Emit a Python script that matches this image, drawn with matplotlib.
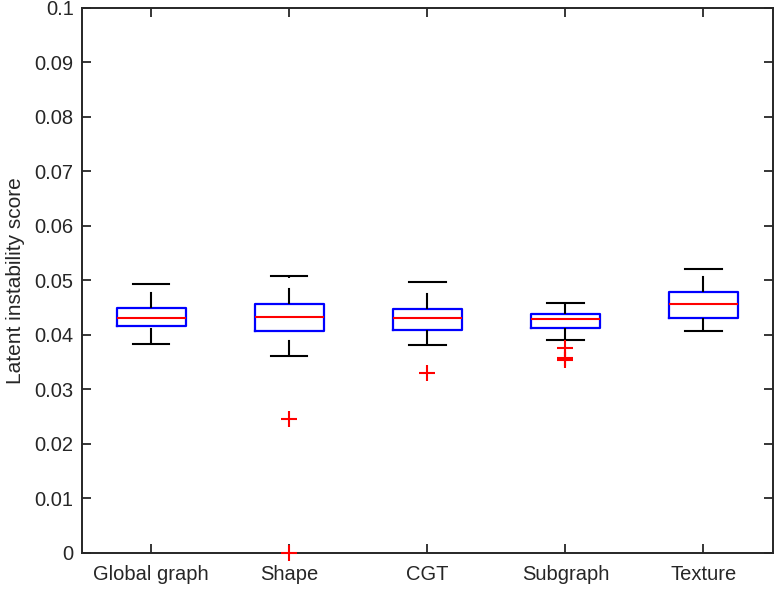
import matplotlib
matplotlib.use("Agg")
import matplotlib.pyplot as plt

# Box statistics
labels = ["Global graph", "Shape", "CGT", "Subgraph", "Texture"]
whislo = [0.0383, 0.0361, 0.0381, 0.0391, 0.0408]
q1 = [0.0416, 0.0407, 0.0409, 0.0413, 0.0432]
med = [0.0431, 0.0433, 0.0432, 0.0429, 0.0457]
q3 = [0.0450, 0.0456, 0.0447, 0.0439, 0.0479]
whishi = [0.0494, 0.0509, 0.0498, 0.0458, 0.0521]
fliers = [[], [0.0245, 0.0], [0.0331], [0.0376, 0.0358, 0.0354], []]

plt.rcParams["font.family"] = ["Liberation Sans", "DejaVu Sans"]

stats = []
for i in range(len(labels)):
    stats.append({"label": labels[i], "whislo": whislo[i], "q1": q1[i],
                  "med": med[i], "q3": q3[i], "whishi": whishi[i],
                  "fliers": fliers[i]})

fig = plt.figure(figsize=(7.76, 5.91), dpi=100)
ax = fig.add_axes([0.1057, 0.0643, 0.8898, 0.9222])

bp = ax.bxp(stats, widths=0.5, capwidths=0.265, showfliers=True,
            boxprops=dict(color="#0000ff", linewidth=1.6),
            medianprops=dict(color="#ff0000", linewidth=1.5),
            whiskerprops=dict(color="black", linewidth=1.5, linestyle=(0, (7.7, 4.8))),
            capprops=dict(color="black", linewidth=1.5),
            flierprops=dict(marker="+", markeredgecolor="#ff0000", markersize=11,
                            markeredgewidth=1.5, linestyle="none"))

# lower whiskers start at the cap, like MATLAB draws them
for w in bp["whiskers"][0::2]:
    w.set_ydata(w.get_ydata()[::-1])
# outliers drawn on top of the axis line, not clipped
for f in bp["fliers"]:
    f.set_clip_on(False)
    f.set_zorder(3)

ax.set_xlim(0.5, 5.5)
ax.set_ylim(0, 0.1)
ax.set_yticks([i / 100 for i in range(11)])
ax.set_yticklabels(["0"] + ["%g" % (i / 100) for i in range(1, 11)])
ax.set_ylabel("Latent instability score", fontsize=15, color="#262626", labelpad=7)

ax.tick_params(direction="in", top=True, right=True, length=6.5, width=1.3,
               colors="#262626", labelsize=14.5)
ax.tick_params(axis="x", pad=9)
ax.tick_params(axis="y", pad=6)
for s in ax.spines.values():
    s.set_linewidth(1.4)
    s.set_color("#262626")

fig.savefig("out.png", dpi=100)
